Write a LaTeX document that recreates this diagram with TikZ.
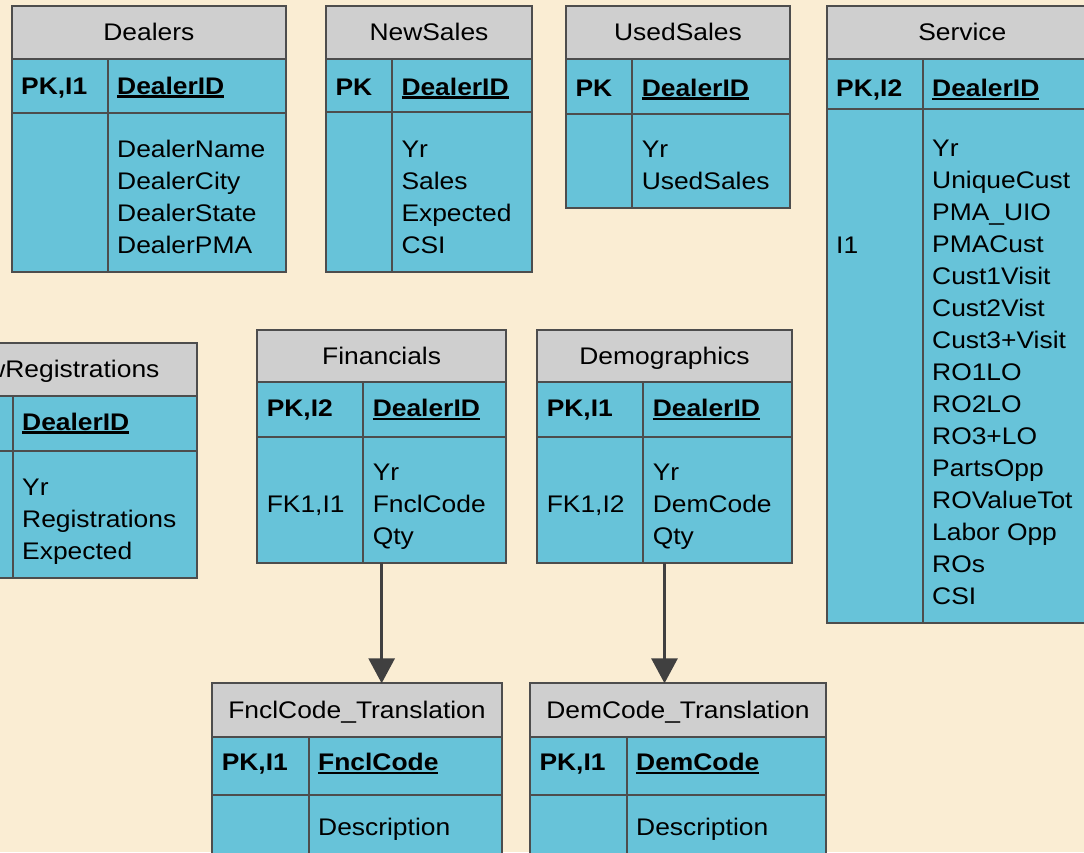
\documentclass[tikz,border=0pt]{standalone}
\usepackage{fontspec}
\setmainfont{Liberation Sans}[FakeStretch=1.1]
\usetikzlibrary{arrows.meta}
\definecolor{bgparch}{RGB}{250,237,211}
\definecolor{hdrgray}{RGB}{207,207,207}
\definecolor{cellcyan}{RGB}{103,195,217}
\definecolor{edgegray}{RGB}{77,77,77}
\definecolor{arrowgray}{RGB}{64,64,64}
\newcommand\keyul[1]{\setbox0\hbox{\textbf{#1}}\rlap{\rule[-3.5pt]{\wd0}{2.5pt}}\box0}
\newcommand\ertable[9]{%
  \node[hdrcell, minimum width={(#4)-(#2)}, minimum height={(#6)-(#5)}] (#1-h) at (#2,#5) {#9};
  \node[keycell, minimum width={(#3)-(#2)}, minimum height={(#7)-(#6)}] (#1-kl) at (#2,#6) {};
  \node[keycell, minimum width={(#4)-(#3)}, minimum height={(#7)-(#6)}] (#1-kr) at (#3,#6) {};
  \node[keycell, minimum width={(#3)-(#2)}, minimum height={(#8)-(#7)}] (#1-bl) at (#2,#7) {};
  \node[keycell, minimum width={(#4)-(#3)}, minimum height={(#8)-(#7)}] (#1-br) at (#3,#7) {};
}
\newcommand\fieldlines[4]{%
  \foreach \t [count=\i] in {#4} {\node[txt] (#1-\i) at (#2,{#3+32*(\i-1)}) {\t};}
}
\tikzset{
  cellbase/.style={draw=edgegray, line width=2pt, anchor=north west, inner sep=0pt, outer sep=0pt},
  hdrcell/.style={cellbase, fill=hdrgray, text height=16.4pt, text depth=0pt, font=\fontsize{24pt}{32pt}\selectfont},
  keycell/.style={cellbase, fill=cellcyan},
  txt/.style={anchor=base west, inner sep=0pt, outer sep=0pt, font=\fontsize{24pt}{32pt}\selectfont},
  conn/.style={draw=arrowgray, line width=3pt, -{Triangle[length=25pt, width=26pt]}}
}
\begin{document}
\begin{tikzpicture}[x=1pt, y=-1pt]
\useasboundingbox (0,0) rectangle (1084,852);
\clip (0,0) rectangle (1084,852);
\fill[bgparch] (0,0) rectangle (1084,852);

% Dealers
\ertable{dealers}{11.7}{107.7}{286}{5.7}{59.3}{112.7}{271.7}{Dealers}
\node[txt] (dealers-pk) at (21.2,94.3) {\textbf{PK,I1}};
\node[txt] (dealers-key) at (117.2,94.3) {\keyul{DealerID}};
\fieldlines{dealers-f}{117.2}{157}{DealerName,DealerCity,DealerState,DealerPMA}

% NewSales
\ertable{newsales}{326}{392}{532}{5.7}{59.3}{112.3}{271.7}{NewSales}
\node[txt] (newsales-pk) at (335.5,95) {\textbf{PK}};
\node[txt] (newsales-key) at (401.5,95) {\keyul{DealerID}};
\fieldlines{newsales-f}{401.5}{157.3}{Yr,Sales,Expected,CSI}

% UsedSales
\ertable{usedsales}{566}{632.3}{790}{5.7}{59.3}{114}{208.3}{UsedSales}
\node[txt] (usedsales-pk) at (575.5,96) {\textbf{PK}};
\node[txt] (usedsales-key) at (641.8,96) {\keyul{DealerID}};
\fieldlines{usedsales-f}{641.8}{157.3}{Yr,UsedSales}

% Service
\ertable{service}{826.7}{922.7}{1098}{5.7}{59.3}{109}{622.7}{Service}
\node[txt] (service-pk) at (836.2,96.5) {\textbf{PK,I2}};
\node[txt] (service-key) at (932.2,96.5) {\keyul{DealerID}};
\node[txt] (service-idx) at (836.2,253.3) {I1};
\fieldlines{service-f}{932.2}{156.7}{Yr,UniqueCust,PMA\_UIO,PMACust,Cust1Visit,Cust2Vist,Cust3+Visit,RO1LO,RO2LO,RO3+LO,PartsOpp,ROValueTot,Labor Opp,ROs,CSI}

% NewRegistrations (cut off at the left edge, as in the reference)
\ertable{newreg}{-84.7}{12.7}{196.7}{343.3}{395.7}{451}{577.7}{NewRegistrations}
\node[txt] (newreg-key) at (22.2,430) {\keyul{DealerID}};
\fieldlines{newreg-f}{22.2}{495}{Yr,Registrations,Expected}

% Financials
\ertable{fin}{257.3}{363.3}{506}{330}{382}{436.7}{562.7}{Financials}
\node[txt] (fin-pk) at (266.8,416.7) {\textbf{PK,I2}};
\node[txt] (fin-key) at (372.8,416.7) {\keyul{DealerID}};
\node[txt] (fin-fk) at (266.8,512.7) {FK1,I1};
\fieldlines{fin-f}{372.8}{480.7}{Yr,FnclCode,Qty}

% Demographics
\ertable{demo}{537.3}{643.3}{791.7}{330}{382}{436.7}{562.7}{Demographics}
\node[txt] (demo-pk) at (546.8,416.7) {\textbf{PK,I1}};
\node[txt] (demo-key) at (652.8,416.7) {\keyul{DealerID}};
\node[txt] (demo-fk) at (546.8,512.7) {FK1,I2};
\fieldlines{demo-f}{652.8}{480.7}{Yr,DemCode,Qty}

% FnclCode_Translation
\ertable{fncl}{212.3}{308.7}{501.7}{683.3}{736.7}{795.3}{870}{FnclCode\_Translation}
\node[txt] (fncl-pk) at (221.8,770.7) {\textbf{PK,I1}};
\node[txt] (fncl-key) at (318.2,770.7) {\keyul{FnclCode}};
\node[txt] (fncl-desc) at (318.2,835) {Description};

% DemCode_Translation
\ertable{demc}{530}{626.7}{826}{683.3}{736.7}{795.3}{870}{DemCode\_Translation}
\node[txt] (demc-pk) at (539.5,770.7) {\textbf{PK,I1}};
\node[txt] (demc-key) at (636.2,770.7) {\keyul{DemCode}};
\node[txt] (demc-desc) at (636.2,835) {Description};

% connectors
\draw[conn] (fin-h.center |- fin-br.south) -- (fin-h.center |- fncl-h.north);
\draw[conn] (demo-h.center |- demo-br.south) -- (demo-h.center |- demc-h.north);
\end{tikzpicture}
\end{document}
